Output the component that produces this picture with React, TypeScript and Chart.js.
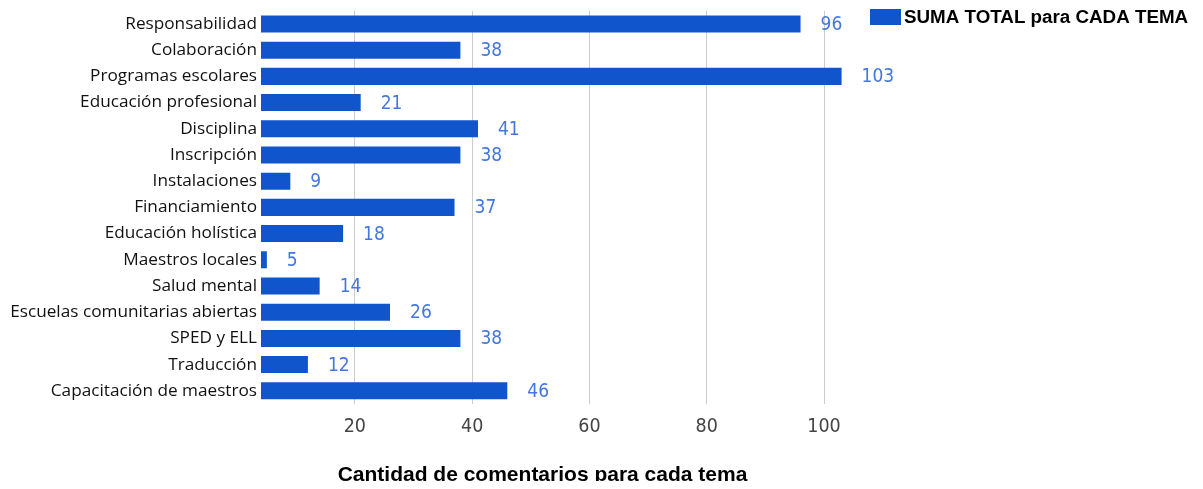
import { useEffect, useRef } from "react";
import { Chart, registerables } from "chart.js";

Chart.register(...registerables);

const categories = [
  "Responsabilidad",
  "Colaboración",
  "Programas escolares",
  "Educación profesional",
  "Disciplina",
  "Inscripción",
  "Instalaciones",
  "Financiamiento",
  "Educación holística",
  "Maestros locales",
  "Salud mental",
  "Escuelas comunitarias abiertas",
  "SPED y ELL",
  "Traducción",
  "Capacitación de maestros",
];
const values = [96, 38, 103, 21, 41, 38, 9, 37, 18, 5, 14, 26, 38, 12, 46];
const xTicks = [20, 40, 60, 80, 100];
const seriesLabel = "SUMA TOTAL para CADA TEMA";
const axisTitle = "Cantidad de comentarios para cada tema";

const BAR = "#1155cc";
const LABEL = "#4477dd";
const NARROW = '"Liberation Sans Narrow", "DejaVu Sans Condensed", Roboto, sans-serif';
const ARIAL = '"Liberation Sans", Arial, sans-serif';

const valueLabels = {
  id: "valueLabels",
  afterDatasetsDraw(chart: any) {
    const ctx = chart.ctx;
    const meta = chart.getDatasetMeta(0);
    ctx.save();
    ctx.font = `19px ${NARROW}`;
    ctx.fillStyle = LABEL;
    ctx.textBaseline = "middle";
    ctx.textAlign = "left";
    meta.data.forEach((bar: any, i: number) => {
      ctx.fillText(String(values[i]), bar.x + 20, bar.y + 1);
    });
    ctx.restore();
  },
};

const sideLegend = {
  id: "sideLegend",
  afterDraw(chart: any) {
    const ctx = chart.ctx;
    const ds = chart.data.datasets[0];
    const x0 = chart.chartArea.right + 46;
    const y0 = 3;
    ctx.save();
    ctx.fillStyle = ds.backgroundColor;
    ctx.fillRect(x0, y0, 31, 16);
    ctx.fillStyle = "#000";
    ctx.font = `bold 18.8px ${ARIAL}`;
    ctx.textBaseline = "middle";
    ctx.textAlign = "left";
    ctx.fillText(ds.label, x0 + 34, y0 + 9);
    ctx.restore();
  },
};

export default function App() {
  const ref = useRef<HTMLCanvasElement | null>(null);
  useEffect(() => {
    if (!ref.current) return;
    const chart = new Chart(ref.current, {
      type: "bar",
      data: {
        labels: categories,
        datasets: [
          {
            label: seriesLabel,
            data: values,
            backgroundColor: BAR,
            borderWidth: 0,
            categoryPercentage: 1,
            barPercentage: 0.65,
            clip: { left: 0, top: false, right: false, bottom: false },
          },
        ],
      },
      plugins: [valueLabels, sideLegend],
      options: {
        indexAxis: "y",
        animation: false,
        responsive: true,
        maintainAspectRatio: false,
        layout: { padding: { top: 0, left: 0, right: 371, bottom: 0 } },
        plugins: {
          legend: { display: false },
          tooltip: { enabled: false },
        },
        scales: {
          x: {
            min: 4,
            max: 100,
            afterBuildTicks: (scale: any) => {
              scale.ticks = xTicks.map((v) => ({ value: v }));
            },
            grid: { color: "#cccccc", drawTicks: false, lineWidth: 1 },
            border: { display: false },
            ticks: { color: "#444", padding: 13, font: { family: NARROW, size: 19.5, lineHeight: 1 } },
            title: {
              display: true,
              text: axisTitle,
              color: "#000",
              padding: { top: 16.9, bottom: 0 },
              font: { family: ARIAL, size: 21, weight: "bold", lineHeight: 0.89 },
            },
          },
          y: {
            afterFit: (scale: any) => {
              scale.width = 253;
            },
            grid: { display: false, drawTicks: false },
            border: { display: false },
            ticks: {
              color: "#111",
              padding: 4,
              autoSkip: false,
              font: { family: '"Open Sans", sans-serif', size: 17.2, lineHeight: 0.1 },
            },
          },
        },
      },
    });
    return () => chart.destroy();
  }, []);
  return (
    <div style={{ width: 1187, height: 479, marginTop: -2, marginBottom: -4, position: "relative" }}>
      <canvas ref={ref} />
    </div>
  );
}
